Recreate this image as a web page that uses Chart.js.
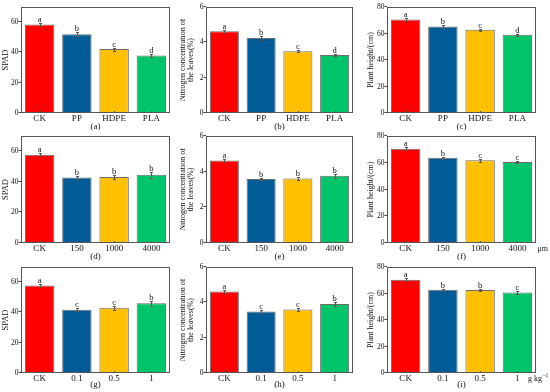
<!DOCTYPE html>
<html>
<head>
<meta charset="utf-8">
<script src="https://cdn.jsdelivr.net/npm/chart.js@4.4.1/dist/chart.umd.min.js"></script>
<style>
  body { margin: 0; width: 550px; height: 392px; background: #fff; position: relative; overflow: hidden; }
  canvas { position: absolute; }
</style>
</head>
<body>
<script>
// categories per row
const typeLabels = ['CK', 'PP', 'HDPE', 'PLA'];
const sizeLabels = ['CK', '150', '1000', '4000'];
const doseLabels = ['CK', '0.1', '0.5', '1'];

// row 1 : microplastic type
const spadType = [58.4, 52.0, 42.2, 38.0];
const spadTypeErr = [1.2, 1.3, 1.0, 0.8];
const spadTypeSig = ['a', 'b', 'c', 'd'];
const nType = [4.63, 4.25, 3.5, 3.28];
const nTypeErr = [0.08, 0.1, 0.07, 0.06];
const nTypeSig = ['a', 'b', 'c', 'd'];
const hType = [70.6, 65.3, 62.9, 59.0];
const hTypeErr = [1.2, 0.9, 0.8, 1.0];
const hTypeSig = ['a', 'b', 'c', 'd'];

// row 2 : particle size
const spadSize = [57.8, 42.8, 43.2, 44.6];
const spadSizeErr = [1.2, 1.1, 1.3, 1.8];
const spadSizeSig = ['a', 'b', 'b', 'b'];
const nSize = [4.63, 3.59, 3.61, 3.77];
const nSizeErr = [0.08, 0.07, 0.08, 0.1];
const nSizeSig = ['a', 'b', 'b', 'b'];
const hSize = [70.5, 63.8, 61.9, 60.6];
const hSizeErr = [1.2, 0.8, 1.2, 1.0];
const hSizeSig = ['a', 'b', 'c', 'c'];

// row 3 : dose
const spadDose = [57.8, 41.7, 43.1, 46.0];
const spadDoseErr = [1.2, 1.0, 1.3, 1.5];
const spadDoseSig = ['a', 'c', 'c', 'b'];
const nDose = [4.62, 3.48, 3.59, 3.9];
const nDoseErr = [0.08, 0.07, 0.08, 0.1];
const nDoseSig = ['a', 'c', 'c', 'b'];
const hDose = [70.3, 62.9, 62.6, 60.8];
const hDoseErr = [1.2, 0.8, 1.0, 0.9];
const hDoseSig = ['a', 'b', 'b', 'c'];

const spadTicks = [0, 20, 40, 60];
const nTicks = [0, 2, 4, 6];
const hTicks = [0, 20, 40, 60, 80];

const barColors = ['#FF0000', '#005B97', '#FFC000', '#00C46A'];
const FONT = "'Liberation Serif', 'Times New Roman', serif";
const INK = '#111';

// panel geometry
const cols = [
  {x: 0,   axisW: 21, plotW: 149, padR: 5},
  {x: 180, axisW: 26, plotW: 147, padR: 4},
  {x: 365, axisW: 22, plotW: 149, padR: 14}
];
const rows = [
  {y: 0,   plotTop: 7,   plotBottom: 113, tagGap: 14},
  {y: 129, plotTop: 136, plotBottom: 243, tagGap: 13.5},
  {y: 260, plotTop: 267, plotBottom: 373, tagGap: 11.5}
];
const X_AXIS_H = 19;

// axes text, error bars, letters, frame and sub labels
const extrasPlugin = {
  id: 'extras',
  afterDatasetsDraw(chart, args, opts) {
    const {ctx, chartArea: a, scales: {x, y}} = chart;
    const ds = chart.data.datasets[0];
    const meta = chart.getDatasetMeta(0);
    ctx.save();
    ctx.strokeStyle = '#444';
    ctx.lineWidth = 1;
    ctx.fillStyle = INK;

    // y ticks
    ctx.font = '7.5px ' + FONT;
    ctx.textAlign = 'right';
    ctx.textBaseline = 'middle';
    opts.ticks.forEach(v => {
      const py = Math.round(y.getPixelForValue(v)) - 0.5;
      ctx.beginPath();
      ctx.moveTo(a.left - 2.5, py); ctx.lineTo(a.left, py);
      ctx.stroke();
      ctx.fillText(String(v), a.left - 2.5, py + 0.5);
    });

    // y title (rotated, one or two lines)
    ctx.save();
    ctx.font = opts.titleSize + 'px ' + FONT;
    ctx.textAlign = 'center';
    ctx.translate(opts.titleX, (a.top + a.bottom) / 2);
    ctx.rotate(-Math.PI / 2);
    opts.title.forEach((line, k) => ctx.fillText(line, 0, k * opts.titleLH));
    ctx.restore();

    // x labels
    ctx.font = '9px ' + FONT;
    ctx.textAlign = 'center';
    ctx.textBaseline = 'middle';
    chart.data.labels.forEach((lab, i) => {
      ctx.fillText(lab, x.getPixelForValue(i), a.bottom + 5.5);
    });

    // error bars + significance letters
    ctx.font = '8.5px ' + FONT;
    ctx.textBaseline = 'alphabetic';
    ctx.strokeStyle = '#555';
    meta.data.forEach((bar, i) => {
      const v = ds.data[i], e = ds.errors[i];
      const top = Math.round(y.getPixelForValue(v + e)) + 0.5;
      const bot = Math.round(y.getPixelForValue(v - e)) + 0.5;
      const bx = Math.round(bar.x) + 0.5;
      ctx.beginPath();
      ctx.moveTo(bx, top); ctx.lineTo(bx, bot);
      ctx.moveTo(bx - 1.5, top); ctx.lineTo(bx + 1.5, top);
      ctx.moveTo(bx - 1.5, bot); ctx.lineTo(bx + 1.5, bot);
      // small inside tick on the x axis
      ctx.moveTo(bx, a.bottom); ctx.lineTo(bx, a.bottom - 2);
      ctx.stroke();
      ctx.fillText(ds.letters[i], bar.x, top - 1.5);
    });

    // box around the plot
    ctx.strokeStyle = '#555';
    ctx.strokeRect(a.left + 0.5, a.top + 0.5, a.right - a.left - 1, a.bottom - a.top - 1);

    // (a), (b) ...
    ctx.fillStyle = INK;
    ctx.font = '9px ' + FONT;
    ctx.textAlign = 'center';
    ctx.textBaseline = 'middle';
    ctx.fillText(opts.tag, (a.left + a.right) / 2, a.bottom + opts.tagGap);

    // unit at the end of the x axis
    if (opts.unit === 'um') {
      ctx.font = '8px ' + FONT;
      ctx.textAlign = 'left';
      ctx.fillText('\u03bcm', a.right + 1.5, a.bottom + 5.5);
    } else if (opts.unit === 'gkg') {
      ctx.font = '8px ' + FONT;
      ctx.textAlign = 'left';
      ctx.fillText('g kg', a.right - 8, a.bottom + 5.5);
      const w = ctx.measureText('g kg').width;
      ctx.font = '5.5px ' + FONT;
      ctx.fillText('\u22121', a.right - 8 + w + 0.5, a.bottom + 2.5);
    }
    ctx.restore();
  }
};

let makePanel = (col, row, labels, values, errors, letters, yMax, tickList, yTitle, titleSize, titleLH, titleX, tag, unit) => {
  const c = cols[col], r = rows[row];
  const canvas = document.createElement('canvas');
  const w = c.axisW + c.plotW + c.padR;
  const h = Math.min(r.plotBottom - r.y + X_AXIS_H, 392 - r.y);
  canvas.width = w;
  canvas.height = h;
  canvas.style.left = c.x + 'px';
  canvas.style.top = r.y + 'px';
  canvas.style.width = w + 'px';
  canvas.style.height = h + 'px';
  document.body.appendChild(canvas);

  new Chart(canvas.getContext('2d'), {
    type: 'bar',
    data: {
      labels: labels,
      datasets: [{
        data: values,
        errors: errors,
        letters: letters,
        backgroundColor: barColors,
        borderColor: '#6b6b6b',
        borderWidth: 1,
        barPercentage: 0.79,
        categoryPercentage: 1
      }]
    },
    options: {
      responsive: false,
      maintainAspectRatio: false,
      animation: false,
      devicePixelRatio: 1,
      layout: {padding: {
        top: r.plotTop - r.y,
        right: c.padR,
        left: c.axisW,
        bottom: h - (r.plotBottom - r.y)
      }},
      plugins: {
        legend: {display: false},
        tooltip: {enabled: false},
        extras: {
          tag: tag, tagGap: r.tagGap, unit: unit, ticks: tickList,
          title: yTitle, titleSize: titleSize, titleLH: titleLH, titleX: titleX
        }
      },
      scales: {
        x: {display: false},
        y: {display: false, min: 0, max: yMax}
      }
    },
    plugins: [extrasPlugin]
  });
};

const nTitle = ['Nitrogen concentration of', 'the leaves(%)'];
const hTitle = ['Plant height/(cm)'];

makePanel(0, 0, typeLabels, spadType, spadTypeErr, spadTypeSig, 70, spadTicks, ['SPAD'], 8.5, 10, 6, '(a)', null);
makePanel(1, 0, typeLabels, nType, nTypeErr, nTypeSig, 6, nTicks, nTitle, 8, 7.7, 3.3, '(b)', null);
makePanel(2, 0, typeLabels, hType, hTypeErr, hTypeSig, 80, hTicks, hTitle, 8, 9, 6, '(c)', null);

makePanel(0, 1, sizeLabels, spadSize, spadSizeErr, spadSizeSig, 70, spadTicks, ['SPAD'], 8.5, 10, 6, '(d)', null);
makePanel(1, 1, sizeLabels, nSize, nSizeErr, nSizeSig, 6, nTicks, nTitle, 8, 7.7, 3.3, '(e)', null);
makePanel(2, 1, sizeLabels, hSize, hSizeErr, hSizeSig, 80, hTicks, hTitle, 8, 9, 6, '(f)', 'um');

makePanel(0, 2, doseLabels, spadDose, spadDoseErr, spadDoseSig, 70, spadTicks, ['SPAD'], 8.5, 10, 6, '(g)', null);
makePanel(1, 2, doseLabels, nDose, nDoseErr, nDoseSig, 6, nTicks, nTitle, 8, 7.7, 3.3, '(h)', null);
makePanel(2, 2, doseLabels, hDose, hDoseErr, hDoseSig, 80, hTicks, hTitle, 8, 9, 6, '(i)', 'gkg');
</script>
</body>
</html>
